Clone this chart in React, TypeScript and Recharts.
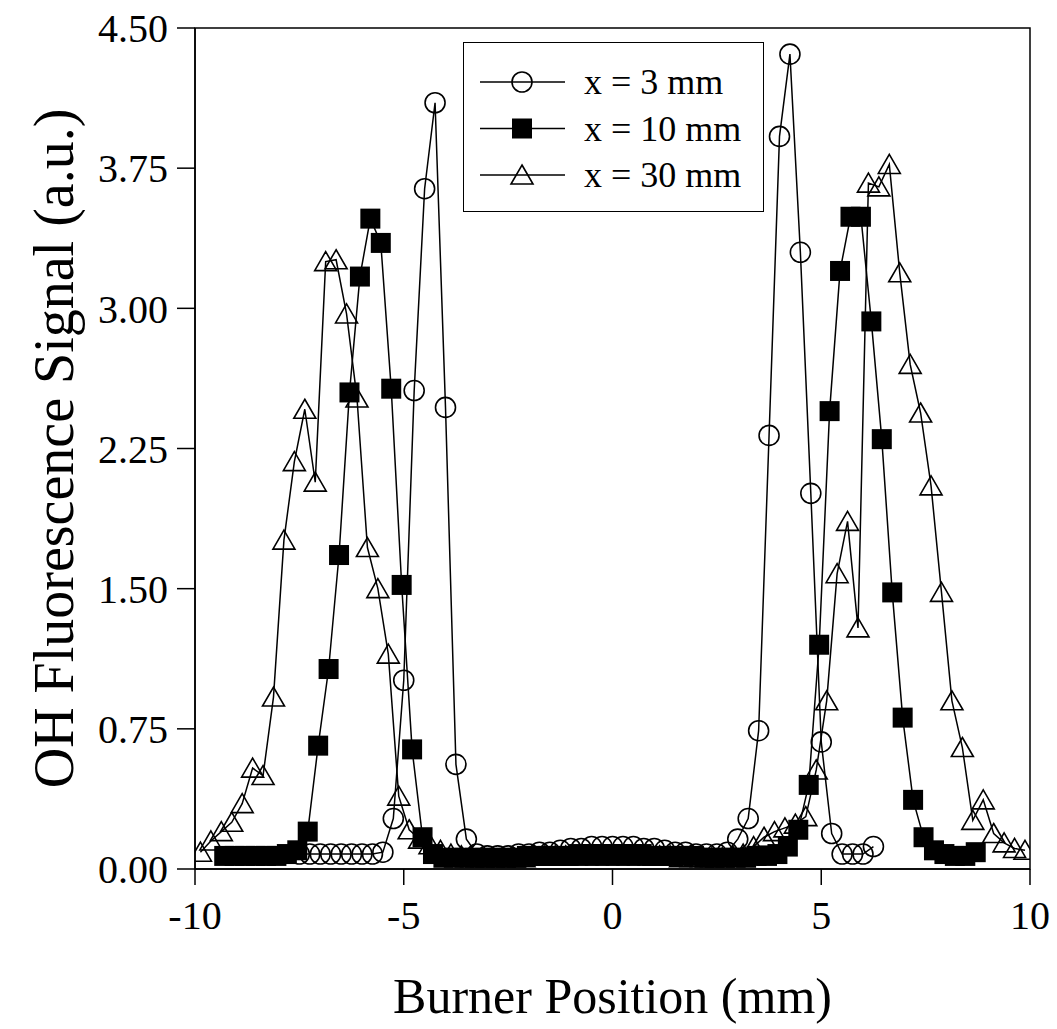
import { LineChart, Line, XAxis, YAxis, Legend, ReferenceArea, Label } from 'recharts'

// x = 3 mm (open circles)
const circleX = [
  -7.5, -7.25, -7.0, -6.75, -6.5, -6.25, -6.0, -5.75, -5.5,
  -5.25, -5.0, -4.75, -4.5, -4.25, -4.0, -3.75, -3.5,
  -3.25, -3.0, -2.75, -2.5, -2.25, -2.0, -1.75, -1.5, -1.25, -1.0, -0.75, -0.5, -0.25,
  0, 0.25, 0.5, 0.75, 1.0, 1.25, 1.5, 1.75, 2.0, 2.25, 2.5, 2.75,
  3.0, 3.25, 3.5, 3.75, 4.0, 4.25, 4.5, 4.75, 5.0, 5.25, 5.5, 5.75, 6.0, 6.25,
]
const circleY = [
  0.08, 0.08, 0.08, 0.08, 0.08, 0.08, 0.08, 0.08, 0.09,
  0.27, 1.01, 2.56, 3.64, 4.1, 2.47, 0.56, 0.16,
  0.08, 0.07, 0.07, 0.07, 0.08, 0.08, 0.09, 0.09, 0.1, 0.11, 0.11, 0.12, 0.12,
  0.12, 0.12, 0.12, 0.11, 0.11, 0.1, 0.09, 0.09, 0.08, 0.08, 0.08, 0.09,
  0.16, 0.27, 0.74, 2.32, 3.92, 4.36, 3.3, 2.01, 0.68, 0.19, 0.08, 0.08, 0.08, 0.12,
]

// x = 10 mm (filled squares)
const squareX = [
  -9.3, -9.05, -8.8, -8.55, -8.3, -8.05, -7.8, -7.55, -7.3, -7.05, -6.8, -6.55, -6.3,
  -6.05, -5.8, -5.55, -5.3, -5.05, -4.8, -4.55, -4.3,
  -4.05, -3.8, -3.55, -3.3, -3.05, -2.8, -2.55, -2.3, -2.05, -1.8, -1.55, -1.3, -1.05,
  -0.8, -0.55, -0.3, -0.05, 0.2, 0.45, 0.7, 0.95, 1.2, 1.45, 1.7, 1.95, 2.2, 2.45,
  2.7, 2.95, 3.2, 3.45, 3.7, 3.95,
  4.2, 4.45, 4.7, 4.95, 5.2, 5.45, 5.7, 5.95, 6.2, 6.45, 6.7, 6.95, 7.2, 7.45, 7.7,
  7.95, 8.2, 8.45, 8.7,
]
const squareY = [
  0.07, 0.07, 0.07, 0.07, 0.07, 0.07, 0.08, 0.1, 0.2, 0.66, 1.07, 1.68, 2.55,
  3.17, 3.48, 3.35, 2.57, 1.52, 0.64, 0.17, 0.08,
  0.06, 0.06, 0.06, 0.06, 0.06, 0.06, 0.06, 0.06, 0.07, 0.07, 0.07, 0.07, 0.07,
  0.08, 0.08, 0.08, 0.08, 0.08, 0.08, 0.08, 0.07, 0.07, 0.07, 0.07, 0.07, 0.06, 0.06,
  0.06, 0.06, 0.06, 0.07, 0.07, 0.08,
  0.12, 0.21, 0.45, 1.2, 2.45, 3.2, 3.49, 3.49, 2.93, 2.3, 1.48, 0.81, 0.37, 0.17, 0.1,
  0.08, 0.07, 0.07, 0.09,
]

// x = 30 mm (open triangles)
const triangleX = [
  -9.87, -9.62, -9.37, -9.12, -8.87, -8.62, -8.37, -8.12, -7.87, -7.62, -7.37, -7.12, -6.87,
  -6.62, -6.37, -6.12, -5.87, -5.62, -5.37, -5.12, -4.87, -4.62, -4.37, -4.12, -3.87, -3.62,
  -3.37, -3.12, -2.87, -2.62, -2.37, -2.12, -1.87, -1.62, -1.37, -1.12, -0.87, -0.62, -0.37, -0.12,
  0.13, 0.38, 0.63, 0.88, 1.13, 1.38, 1.63, 1.88, 2.13, 2.38, 2.63, 2.88, 3.13, 3.38,
  3.63, 3.88, 4.13, 4.38, 4.63, 4.88, 5.13, 5.38, 5.63, 5.88, 6.13, 6.38, 6.63,
  6.88, 7.13, 7.38, 7.63, 7.88, 8.13, 8.38, 8.63, 8.88, 9.13, 9.38, 9.63, 9.88,
]
const triangleY = [
  0.09, 0.15, 0.2, 0.25, 0.35, 0.54, 0.5, 0.92, 1.76, 2.18, 2.46, 2.07, 3.25,
  3.26, 2.97, 2.52, 1.72, 1.5, 1.15, 0.39, 0.21, 0.16, 0.13, 0.1, 0.08, 0.07,
  0.06, 0.06, 0.06, 0.06, 0.06, 0.06, 0.07, 0.07, 0.07, 0.07, 0.07, 0.07, 0.07, 0.07,
  0.07, 0.07, 0.07, 0.07, 0.07, 0.07, 0.06, 0.06, 0.06, 0.06, 0.06, 0.07, 0.08, 0.12,
  0.17, 0.2, 0.22, 0.24, 0.28, 0.53, 0.9, 1.58, 1.86, 1.29, 3.67, 3.65, 3.77,
  3.19, 2.7, 2.44, 2.05, 1.48, 0.9, 0.65, 0.26, 0.37, 0.19, 0.14, 0.11, 0.1,
]

const seriesNames = ['x = 3 mm', 'x = 10 mm', 'x = 30 mm']
const xTicks = [-10, -5, 0, 5, 10]
const yTicks = [0, 0.75, 1.5, 2.25, 3, 3.75, 4.5]

const FONT = '"Liberation Serif", "Times New Roman", serif'

const toPoints = (xs: number[], ys: number[]) => xs.map((x, i) => ({ x, y: ys[i] }))

const circleData = toPoints(circleX, circleY)
const squareData = toPoints(squareX, squareY)
const triangleData = toPoints(triangleX, triangleY)

function circleShape(cx: number, cy: number, key?: string) {
  return <circle key={key} cx={cx} cy={cy} r={10} fill="none" stroke="#000" strokeWidth={1.6} />
}
function squareShape(cx: number, cy: number, key?: string) {
  return <rect key={key} x={cx - 10} y={cy - 10} width={20} height={20} fill="#000" />
}
function triangleShape(cx: number, cy: number, key?: string) {
  return (
    <path
      key={key}
      d={`M${cx},${cy - 10} L${cx + 11},${cy + 9} L${cx - 11},${cy + 9} Z`}
      fill="none"
      stroke="#000"
      strokeWidth={1.6}
      strokeLinejoin="miter"
    />
  )
}

const makeDot = (shape: typeof circleShape, prefix: string) => (props: any) => {
  const { cx, cy, index } = props
  if (cx == null || cy == null) return <g key={`${prefix}-${index}`} />
  return shape(cx, cy, `${prefix}-${index}`)
}

const shapes = [circleShape, squareShape, triangleShape]

function renderLegend() {
  return (
    <div
      style={{
        width: 301,
        height: 170,
        boxSizing: 'border-box',
        border: '1.5px solid #000',
        background: '#fff',
      }}
    >
      <svg width={298} height={167}>
        {seriesNames.map((name, i) => {
          const y = 39 + i * 46.5
          return (
            <g key={name}>
              <line x1={16} x2={101} y1={y} y2={y} stroke="#000" strokeWidth={1.5} />
              {shapes[i](58, y)}
              <text x={120} y={y + 12} fontFamily={FONT} fontSize={36} fill="#000">
                {name}
              </text>
            </g>
          )
        })}
      </svg>
    </div>
  )
}

export default function App() {
  return (
    <div style={{ position: 'absolute', left: 0, top: 0, width: 1057, height: 1029, background: '#fff' }}>
      <LineChart width={1057} height={1029} margin={{ top: 28, right: 27, bottom: 0, left: 0 }}>
        <ReferenceArea x1={-10} x2={10} y1={0} y2={4.5} fill="none" stroke="#000" strokeWidth={1.5} />
        <XAxis
          type="number"
          dataKey="x"
          domain={[-10, 10]}
          ticks={xTicks}
          interval={0}
          allowDataOverflow
          height={160}
          tickSize={16}
          tickMargin={16}
          axisLine={{ stroke: '#000', strokeWidth: 1.5 }}
          tickLine={{ stroke: '#000', strokeWidth: 1.5 }}
          tick={{ fill: '#000', fontSize: 40, fontFamily: FONT }}
        >
          <Label
            content={(p: any) => {
              const vb = p.viewBox || { x: 195, y: 869, width: 835 }
              return (
                <text x={vb.x + vb.width / 2} y={vb.y + 144} textAnchor="middle" fontFamily={FONT} fontSize={50} fill="#000">
                  Burner Position (mm)
                </text>
              )
            }}
          />
        </XAxis>
        <YAxis
          type="number"
          domain={[0, 4.5]}
          ticks={yTicks}
          interval={0}
          allowDataOverflow
          width={195}
          tickSize={18}
          tickMargin={9}
          tickFormatter={(v: number) => v.toFixed(2)}
          axisLine={{ stroke: '#000', strokeWidth: 1.5 }}
          tickLine={{ stroke: '#000', strokeWidth: 1.5 }}
          tick={{ fill: '#000', fontSize: 40, fontFamily: FONT }}
        >
          <Label
            content={(p: any) => {
              const vb = p.viewBox || { x: 0, y: 28, height: 841 }
              const cx = 73
              const cy = vb.y + vb.height / 2
              return (
                <text x={cx} y={cy} transform={`rotate(-90, ${cx}, ${cy})`} textAnchor="middle" fontFamily={FONT} fontSize={56} fill="#000">
                  OH Fluorescence Signal (a.u.)
                </text>
              )
            }}
          />
        </YAxis>
        <Line
          data={circleData}
          dataKey="y"
          type="linear"
          stroke="#000"
          strokeWidth={1.5}
          dot={makeDot(circleShape, 'c')}
          activeDot={false}
          isAnimationActive={false}
        />
        <Line
          data={triangleData}
          dataKey="y"
          type="linear"
          stroke="#000"
          strokeWidth={1.5}
          dot={makeDot(triangleShape, 't')}
          activeDot={false}
          isAnimationActive={false}
        />
        <Line
          data={squareData}
          dataKey="y"
          type="linear"
          stroke="#000"
          strokeWidth={1.5}
          dot={makeDot(squareShape, 's')}
          activeDot={false}
          isAnimationActive={false}
        />
        <Legend
          layout="vertical"
          align="center"
          verticalAlign="middle"
          wrapperStyle={{ left: 463, top: 42, width: 301, height: 170 }}
          content={renderLegend}
        />
      </LineChart>
    </div>
  )
}
